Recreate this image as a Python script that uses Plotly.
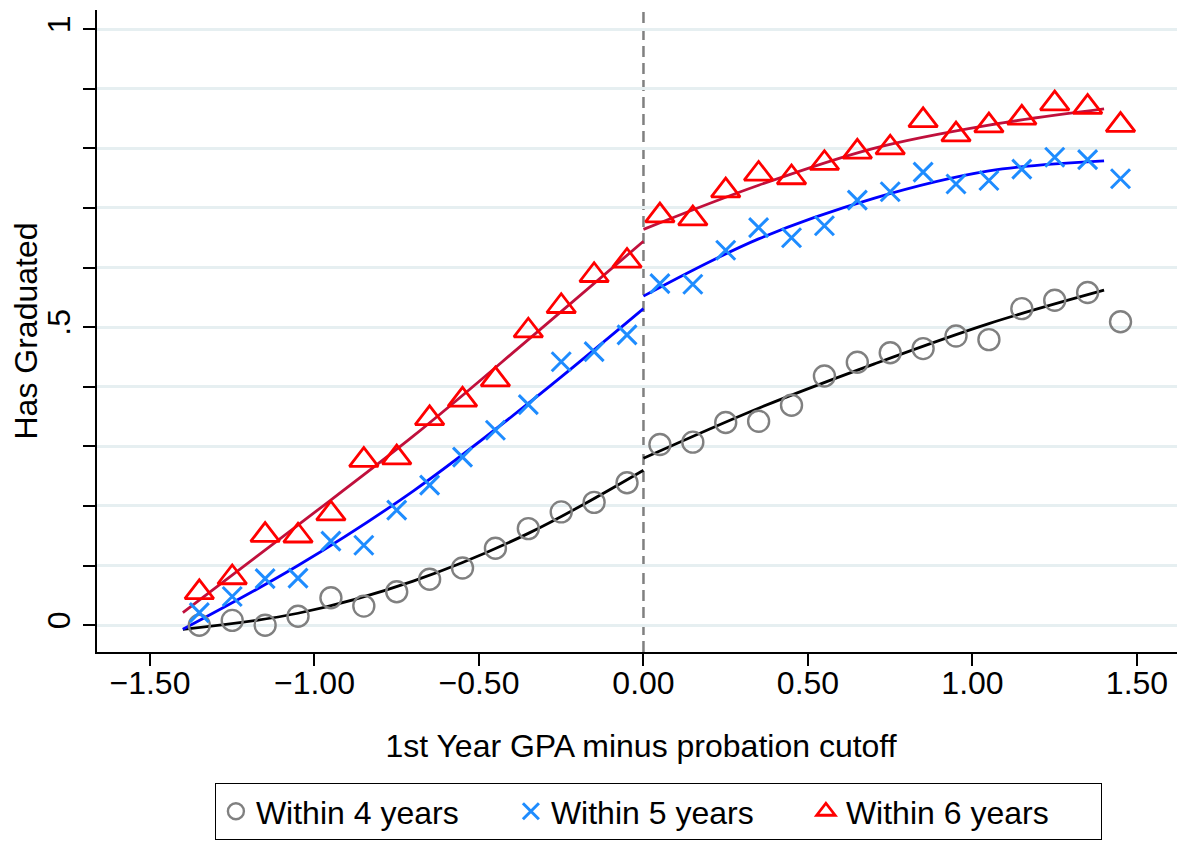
import plotly.graph_objects as go

# ---- data ----
x_bins = [-1.35, -1.25, -1.15, -1.05, -0.95, -0.85, -0.75, -0.65, -0.55, -0.45,
          -0.35, -0.25, -0.15, -0.05, 0.05, 0.15, 0.25, 0.35, 0.45, 0.55,
          0.65, 0.75, 0.85, 0.95, 1.05, 1.15, 1.25, 1.35, 1.45]

grad4 = [0.000, 0.008, 0.000, 0.015, 0.046, 0.032, 0.056, 0.077, 0.096, 0.129,
         0.162, 0.190, 0.206, 0.239, 0.303, 0.307, 0.340, 0.342, 0.369, 0.418,
         0.441, 0.457, 0.464, 0.485, 0.479, 0.531, 0.545, 0.558, 0.509]
grad5 = [0.021, 0.048, 0.078, 0.079, 0.141, 0.134, 0.193, 0.235, 0.282, 0.327,
         0.370, 0.442, 0.459, 0.487, 0.573, 0.572, 0.629, 0.667, 0.650, 0.670,
         0.713, 0.727, 0.760, 0.740, 0.746, 0.765, 0.785, 0.781, 0.749]
grad6 = [0.055, 0.080, 0.151, 0.150, 0.187, 0.277, 0.281, 0.347, 0.378, 0.412,
         0.494, 0.535, 0.587, 0.611, 0.687, 0.682, 0.729, 0.757, 0.751, 0.775,
         0.794, 0.801, 0.847, 0.823, 0.838, 0.851, 0.875, 0.869, 0.839]

fit_x_left = [-1.40, -1.05, -0.70, -0.35, 0.00]
fit_x_right = [0.00, 0.35, 0.70, 1.05, 1.40]
fit4_left = [-0.007, 0.020, 0.074, 0.154, 0.260]
fit4_right = [0.280, 0.364, 0.438, 0.506, 0.562]
fit5_left = [-0.007, 0.100, 0.225, 0.372, 0.531]
fit5_right = [0.552, 0.648, 0.716, 0.762, 0.779]
fit6_left = [0.021, 0.168, 0.317, 0.479, 0.644]
fit6_right = [0.664, 0.738, 0.800, 0.839, 0.866]

x_tickvals = [-1.5, -1.0, -0.5, 0.0, 0.5, 1.0, 1.5]
x_ticktext = ["\u22121.50", "\u22121.00", "\u22120.50", "0.00", "0.50", "1.00", "1.50"]
y_tickvals = [0.0, 0.1, 0.2, 0.3, 0.4, 0.5, 0.6, 0.7, 0.8, 0.9, 1.0]
y_ticktext = ["0", "", "", "", "", ".5", "", "", "", "", "1"]

series_names = ["Within 4 years", "Within 5 years", "Within 6 years"]

FONT = "Liberation Sans, Arial, sans-serif"
FS = 32

fig = go.Figure()

# fitted lines
for xs, ys, col in [
    (fit_x_left, fit4_left, "#000000"), (fit_x_right, fit4_right, "#000000"),
    (fit_x_left, fit5_left, "#0000ff"), (fit_x_right, fit5_right, "#0000ff"),
    (fit_x_left, fit6_left, "#c0103c"), (fit_x_right, fit6_right, "#c0103c"),
]:
    fig.add_trace(go.Scatter(x=xs, y=ys, mode="lines", line=dict(color=col, width=2.8, shape="spline"),
                             showlegend=False, hoverinfo="skip"))

# binned markers
fig.add_trace(go.Scatter(x=x_bins, y=grad4, mode="markers", name=series_names[0],
                         marker=dict(symbol="circle-open", size=21, color="#808080", line=dict(width=2.4, color="#808080"))))
fig.add_trace(go.Scatter(x=x_bins, y=grad5, mode="markers", name=series_names[1],
                         marker=dict(symbol="x-thin-open", size=19, color="#1e8cff", line=dict(width=3, color="#1e8cff"))))
fig.add_trace(go.Scatter(x=x_bins, y=grad6, mode="markers", name=series_names[2],
                         marker=dict(symbol="triangle-up-open", size=25, color="#ff0000", line=dict(width=2.8, color="#ff0000"))))

fig.add_shape(type="line", x0=0, x1=0, y0=0, y1=1, xref="x", yref="paper",
              line=dict(color="#808080", width=2.5, dash="11px,6px"), layer="below")

fig.update_layout(
    width=1177, height=834,
    margin=dict(l=89, r=0, t=2, b=190),
    paper_bgcolor="white", plot_bgcolor="white",
    font=dict(family=FONT, size=FS, color="black"),
    showlegend=True,
    legend=dict(orientation="h", x=0.516, xanchor="center", y=-0.204, yanchor="top",
                bordercolor="black", borderwidth=1, font=dict(size=FS), entrywidth=250,
                itemsizing="trace"),
    xaxis=dict(range=[-1.661, 1.646], tickvals=x_tickvals, ticktext=x_ticktext,
               showgrid=False, zeroline=False, showline=True, linecolor="black", linewidth=1.5,
               ticks="outside", ticklen=12, tickwidth=1.5, tickcolor="black",
               ticklabelstandoff=-10,
               title=dict(text="1st Year GPA minus probation cutoff", standoff=34, font=dict(size=FS))),
    yaxis=dict(range=[-0.045, 1.032], tickvals=y_tickvals, ticktext=y_ticktext, tickangle=-90,
               showgrid=True, gridcolor="#e6eff1", gridwidth=2.5, zeroline=False,
               showline=True, linecolor="black", linewidth=1.5,
               ticks="outside", ticklen=12, tickwidth=1.5, tickcolor="black",
               title=dict(text="Has Graduated", standoff=2, font=dict(size=FS))),
)

fig.write_html("out.html")
